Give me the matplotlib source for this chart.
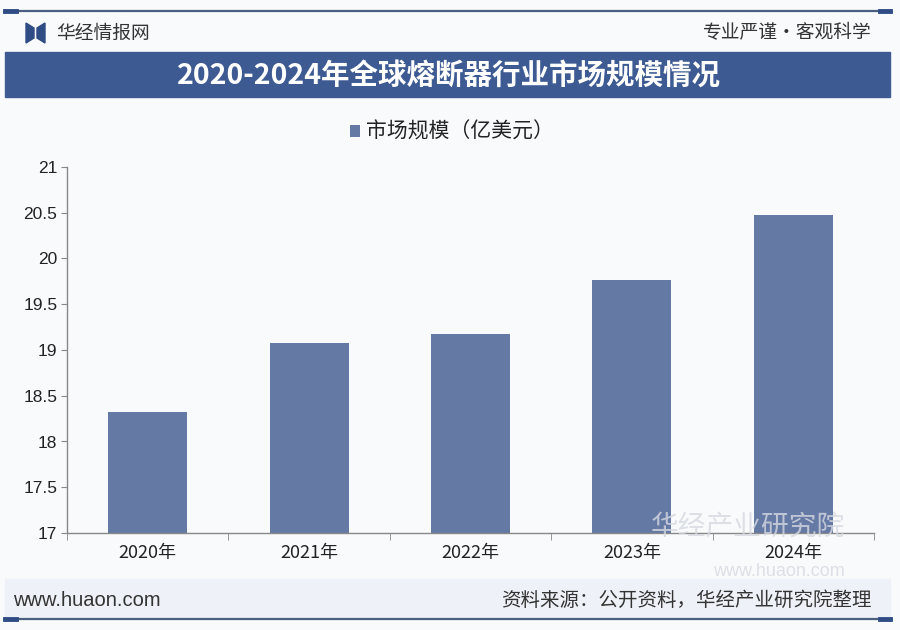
import matplotlib
matplotlib.use("Agg")
from matplotlib import pyplot as plt
from matplotlib.patches import Rectangle, Polygon
from matplotlib.lines import Line2D

plt.rcParams['font.family'] = ['Noto Sans CJK SC', 'DejaVu Sans']

years = ["2020年", "2021年", "2022年", "2023年", "2024年"]
market_size = [18.32, 19.08, 19.18, 19.77, 20.47]
legend_label = "市场规模（亿美元）"
title = "2020-2024年全球熔断器行业市场规模情况"
source = "资料来源：公开资料，华经产业研究院整理"

W, H = 900, 630
fig = plt.figure(figsize=(9, 6.3), dpi=100)
fig.patch.set_facecolor("#f9fafc")

def fx(px):
    return px / W

def fy(py):
    return 1 - py / H

# top rule
fig.add_artist(Line2D([fx(5), fx(890)], [fy(11), fy(11)], color="#4a5f80", lw=1.6))
fig.add_artist(Line2D([fx(5), fx(16)], [fy(11), fy(11)], color="#2f4c85", lw=3.5))
fig.add_artist(Line2D([fx(880), fx(890)], [fy(11), fy(11)], color="#2f4c85", lw=3.5))

# logo
fig.add_artist(Polygon([(fx(26), fy(23)), (fx(34), fy(28)), (fx(34), fy(38)), (fx(26), fy(43))],
                       closed=True, color="#2f4c85"))
fig.add_artist(Polygon([(fx(45), fy(23)), (fx(37), fy(28)), (fx(37), fy(38)), (fx(45), fy(43))],
                       closed=True, color="#2f4c85"))
fig.text(fx(56), fy(33), "华经情报网", fontsize=13.5, color="#333333", va="center", ha="left")
fig.text(fx(872), fy(33), "专业严谨•客观科学", fontsize=13.5, color="#333333", va="center", ha="right")

# title banner
fig.add_artist(Rectangle((fx(5), fy(97)), fx(885), 45 / H, color="#3d5a92"))
fig.text(fx(449), fy(76), title, fontsize=20.5, fontweight="bold", color="white",
         va="center", ha="center")

# footer band
fig.add_artist(Rectangle((fx(5), fy(619)), fx(885), 40 / H, color="#eef1f7"))
fig.add_artist(Line2D([fx(5), fx(890)], [fy(619), fy(619)], color="#4a5f80", lw=1.6))
fig.add_artist(Line2D([fx(5), fx(16)], [fy(619), fy(619)], color="#2f4c85", lw=3.5))
fig.add_artist(Line2D([fx(880), fx(890)], [fy(619), fy(619)], color="#2f4c85", lw=3.5))
fig.text(fx(13), fy(600), "www.huaon.com", fontsize=14.5, color="#333333", va="center", ha="left",
         family=["Liberation Sans", "DejaVu Sans"])
fig.text(fx(872), fy(600), source, fontsize=14, color="#333333", va="center", ha="right")

# watermark
fig.text(fx(845), fy(527), "华经产业研究院", fontsize=20, color="#d5d9e0", va="center",
         ha="right", alpha=0.8, zorder=0)
fig.text(fx(845), fy(572), "www.huaon.com", fontsize=13, color="#d5d9e0", va="center",
         ha="right", alpha=0.8, zorder=0, family=["Liberation Sans", "DejaVu Sans"])

# chart
ax = fig.add_axes([fx(67), fy(533), fx(874 - 67), (533 - 167) / H])
ax.set_facecolor("none")
x = list(range(len(years)))
ax.bar(x, market_size, width=0.49, color="#6579a5", label=legend_label, zorder=2)
ax.set_ylim(17, 21)
ax.set_xlim(-0.5, len(years) - 0.5)
ax.set_yticks([17, 17.5, 18, 18.5, 19, 19.5, 20, 20.5, 21])
ax.set_yticklabels(["17", "17.5", "18", "18.5", "19", "19.5", "20", "20.5", "21"],
                   family=["Liberation Sans", "DejaVu Sans"], fontsize=12.5, color="#222222")
ax.set_xticks(x)
ax.set_xticklabels(years, fontsize=13, color="#222222")
ax.set_xticks([i - 0.5 for i in range(len(years) + 1)], minor=True)
ax.tick_params(axis="x", which="major", length=0, pad=8)
ax.tick_params(axis="x", which="minor", length=5, color="#888888", direction="out")
ax.tick_params(axis="y", length=4, color="#888888", direction="out", pad=3)
for s in ["top", "right"]:
    ax.spines[s].set_visible(False)
for s in ["left", "bottom"]:
    ax.spines[s].set_color("#888888")
    ax.spines[s].set_linewidth(1)

ax.legend(loc="center", bbox_to_anchor=(fx(452), fy(132)), bbox_transform=fig.transFigure,
          frameon=False, fontsize=15, handlelength=0.5, handleheight=0.5, handletextpad=0.3,
          labelcolor="#222222")

fig.savefig("out.png", dpi=100, facecolor=fig.get_facecolor())
